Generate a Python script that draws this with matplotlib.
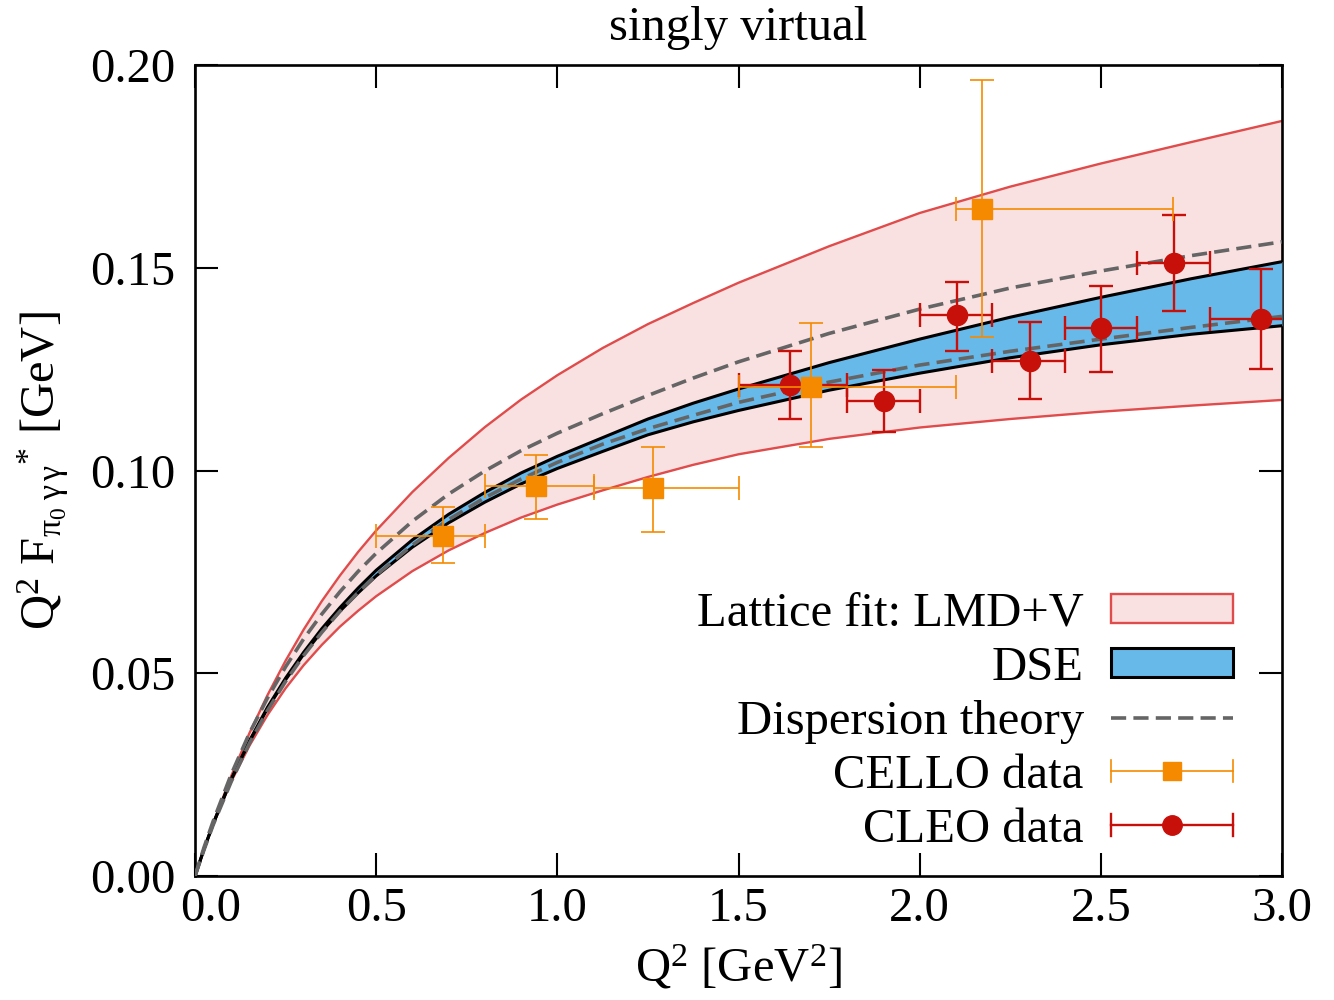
import numpy as np
import matplotlib
matplotlib.use('Agg')
import matplotlib.pyplot as plt
from matplotlib.lines import Line2D
from matplotlib.patches import Patch
from matplotlib.legend_handler import HandlerBase
from matplotlib.transforms import ScaledTranslation

plt.rcParams['font.family'] = ['Liberation Serif', 'DejaVu Serif']
plt.rcParams['mathtext.fontset'] = 'custom'
plt.rcParams['mathtext.rm'] = 'Liberation Serif'
plt.rcParams['mathtext.it'] = 'Liberation Serif:italic'

# curves
q2 = [0.0, 0.025, 0.05, 0.1, 0.15, 0.2, 0.25, 0.3, 0.35, 0.4, 0.45, 0.5, 0.6, 0.7, 0.8, 0.9, 1.0,
      1.125, 1.25, 1.375, 1.5, 1.75, 2.0, 2.25, 2.5, 2.75, 3.0]
lat_hi = [0.0, 0.0065, 0.0130, 0.0247, 0.0352, 0.0446, 0.0531, 0.0608, 0.0678, 0.0741,
          0.0799, 0.0852, 0.0947, 0.1031, 0.1107, 0.1175, 0.1235, 0.1302, 0.1361,
          0.1413, 0.1463, 0.1553, 0.1635, 0.1700, 0.1757, 0.1810, 0.1862]
lat_lo = [0.0, 0.0067, 0.0127, 0.0233, 0.0321, 0.0397, 0.0463, 0.0520, 0.0570, 0.0615,
          0.0654, 0.0690, 0.0752, 0.0803, 0.0846, 0.0884, 0.0916, 0.0951, 0.0984,
          0.1014, 0.1040, 0.1078, 0.1106, 0.1127, 0.1145, 0.1160, 0.1174]
dse_hi = [0.0, 0.0067, 0.0129, 0.0239, 0.0333, 0.0416, 0.0488, 0.0552, 0.0610, 0.0662,
          0.0710, 0.0754, 0.0829, 0.0892, 0.0946, 0.0994, 0.1035, 0.1081, 0.1127,
          0.1166, 0.1201, 0.1266, 0.1324, 0.1378, 0.1427, 0.1473, 0.1515]
dse_lo = [0.0, 0.0067, 0.0128, 0.0238, 0.0331, 0.0413, 0.0484, 0.0547, 0.0603, 0.0653,
          0.0698, 0.0740, 0.0811, 0.0871, 0.0922, 0.0967, 0.1005, 0.1047, 0.1088,
          0.1120, 0.1148, 0.1198, 0.1240, 0.1278, 0.1310, 0.1336, 0.1357]
disp_hi = [0.0, 0.0071, 0.0135, 0.0251, 0.0352, 0.0439, 0.0516, 0.0585, 0.0646, 0.0701,
           0.0751, 0.0796, 0.0875, 0.0942, 0.0999, 0.1049, 0.1092, 0.1140, 0.1185,
           0.1228, 0.1268, 0.1338, 0.1398, 0.1450, 0.1492, 0.1530, 0.1564]
disp_lo = [0.0, 0.0065, 0.0126, 0.0233, 0.0327, 0.0408, 0.0480, 0.0544, 0.0601, 0.0653,
           0.0699, 0.0742, 0.0816, 0.0879, 0.0933, 0.0979, 0.1020, 0.1065, 0.1103,
           0.1136, 0.1168, 0.1218, 0.1260, 0.1294, 0.1324, 0.1353, 0.1380]

# CELLO data
cello_x = [0.684, 0.941, 1.263, 1.700, 2.172]
cello_xlo = [0.50, 0.80, 1.10, 1.50, 2.10]
cello_xhi = [0.80, 1.10, 1.50, 2.10, 2.70]
cello_y = [0.0838, 0.0962, 0.0956, 0.1207, 0.1645]
cello_ylo = [0.0771, 0.0880, 0.0849, 0.1059, 0.1328]
cello_yhi = [0.0909, 0.1038, 0.1059, 0.1363, 0.1963]

# CLEO data
cleo_x = [1.642, 1.902, 2.104, 2.305, 2.500, 2.702, 2.942]
cleo_xlo = [1.5, 1.8, 2.0, 2.2, 2.4, 2.6, 2.8]
cleo_xhi = [1.8, 2.0, 2.2, 2.4, 2.6, 2.8, 3.1]
cleo_y = [0.1212, 0.1172, 0.1383, 0.1269, 0.1351, 0.1512, 0.1373]
cleo_ylo = [0.1126, 0.1096, 0.1295, 0.1177, 0.1244, 0.1393, 0.1250]
cleo_yhi = [0.1295, 0.1248, 0.1465, 0.1366, 0.1454, 0.1630, 0.1496]

pink = '#f9e1e1'
red = '#e04b4b'
blue = '#67b9ea'
gray = '#656565'
orange = '#f58a00'
dred = '#c8100a'


class XErrKey(HandlerBase):
    # gnuplot style key: horizontal bar with end caps and a marker
    def __init__(self, color, marker, ms, lw, cap):
        super().__init__()
        self.color = color
        self.marker = marker
        self.ms = ms
        self.lw = lw
        self.cap = cap

    def create_artists(self, legend, orig_handle, xdescent, ydescent,
                       width, height, fontsize, trans):
        y = height / 2 - ydescent
        x0 = -xdescent
        x1 = width - xdescent
        h = self.cap
        arts = [Line2D([x0, x1], [y, y]),
                Line2D([x0, x0], [y - h, y + h]),
                Line2D([x1, x1], [y - h, y + h])]
        for a in arts:
            a.set_color(self.color)
            a.set_linewidth(self.lw)
        arts.append(Line2D([(x0 + x1) / 2], [y], ls='none', marker=self.marker,
                           ms=self.ms, mfc=self.color, mec=self.color))
        for a in arts:
            a.set_transform(trans)
        return arts


fig = plt.figure(figsize=(13.34, 10), dpi=100)
ax = fig.add_axes([0.1462, 0.124, 0.8148, 0.811])

ax.fill_between(q2, lat_lo, lat_hi, color=pink, lw=0, zorder=1)
ax.plot(q2, lat_hi, color=red, lw=1.7, zorder=2)
ax.plot(q2, lat_lo, color=red, lw=1.7, zorder=2)
ax.fill_between(q2, dse_lo, dse_hi, color=blue, lw=0, zorder=3)
ax.plot(q2, dse_hi, color='black', lw=2.2, zorder=4)
ax.plot(q2, dse_lo, color='black', lw=2.2, zorder=4)
ax.plot(q2, disp_hi, color=gray, lw=2.6, dashes=(4.2, 2.0), zorder=5)
ax.plot(q2, disp_lo, color=gray, lw=2.6, dashes=(4.2, 2.0), zorder=5)

cleo_xerr = [np.array(cleo_x) - np.array(cleo_xlo), np.array(cleo_xhi) - np.array(cleo_x)]
cleo_yerr = [np.array(cleo_y) - np.array(cleo_ylo), np.array(cleo_yhi) - np.array(cleo_y)]
ax.errorbar(cleo_x, cleo_y, xerr=cleo_xerr, yerr=cleo_yerr, fmt='o', color=dred,
            ms=14.5, elinewidth=1.7, capsize=8.3, capthick=1.7, zorder=6)

cello_xerr = [np.array(cello_x) - np.array(cello_xlo), np.array(cello_xhi) - np.array(cello_x)]
cello_yerr = [np.array(cello_y) - np.array(cello_ylo), np.array(cello_yhi) - np.array(cello_y)]
ax.errorbar(cello_x, cello_y, xerr=cello_xerr, yerr=cello_yerr, fmt='s', color=orange,
            ms=15, elinewidth=1.2, capsize=8.3, capthick=1.2, zorder=7)

ax.set_xlim(0, 3)
ax.set_ylim(0, 0.2)
ax.set_xticks(np.arange(0, 3.01, 0.5))
ax.set_yticks(np.arange(0, 0.201, 0.05))
ax.xaxis.set_major_formatter(matplotlib.ticker.FormatStrFormatter('%.1f'))
ax.yaxis.set_major_formatter(matplotlib.ticker.FormatStrFormatter('%.2f'))
ax.tick_params(direction='in', length=16.5, width=1.5, top=True, right=True, labelsize=35)
ax.tick_params(axis='x', pad=8)
ax.tick_params(axis='y', pad=14)
for s in ax.spines.values():
    s.set_linewidth(1.9)

# first x label sits a little to the right, clear of the 0.00
lbl0 = ax.get_xticklabels()[0]
lbl0.set_transform(lbl0.get_transform() + ScaledTranslation(11 / 72, 0, fig.dpi_scale_trans))

ax.set_xlabel(r'Q$^2$ [GeV$^2$]', fontsize=35, labelpad=8)
ax.set_ylabel(r'Q$^2$ F$_{\mathrm{π_0\;γ\,γ}}$$^{*}$ [GeV]', fontsize=35, labelpad=14)
ax.set_title('singly virtual', fontsize=35, pad=18)

h_lat = Patch(facecolor=pink, edgecolor=red, lw=1.7)
h_dse = Patch(facecolor=blue, edgecolor='black', lw=2.2)
h_disp = Line2D([], [], color=gray, lw=2.6, dashes=(4.2, 2.0))
h_cello = Line2D([], [])
h_cleo = Line2D([], [])
ax.legend([h_lat, h_dse, h_disp, h_cello, h_cleo],
          ['Lattice fit: LMD+V', 'DSE', 'Dispersion theory', 'CELLO data', 'CLEO data'],
          handler_map={h_cello: XErrKey(orange, 's', 13.5, 1.2, 8),
                       h_cleo: XErrKey(dred, 'o', 14, 1.7, 8)},
          loc='lower right', bbox_to_anchor=(0.955, 0.029), frameon=False,
          markerfirst=False, fontsize=35, handlelength=2.52, handleheight=0.56,
          handletextpad=0.55, labelspacing=0.21, borderpad=0, borderaxespad=0)

fig.savefig('out.png', dpi=100)
